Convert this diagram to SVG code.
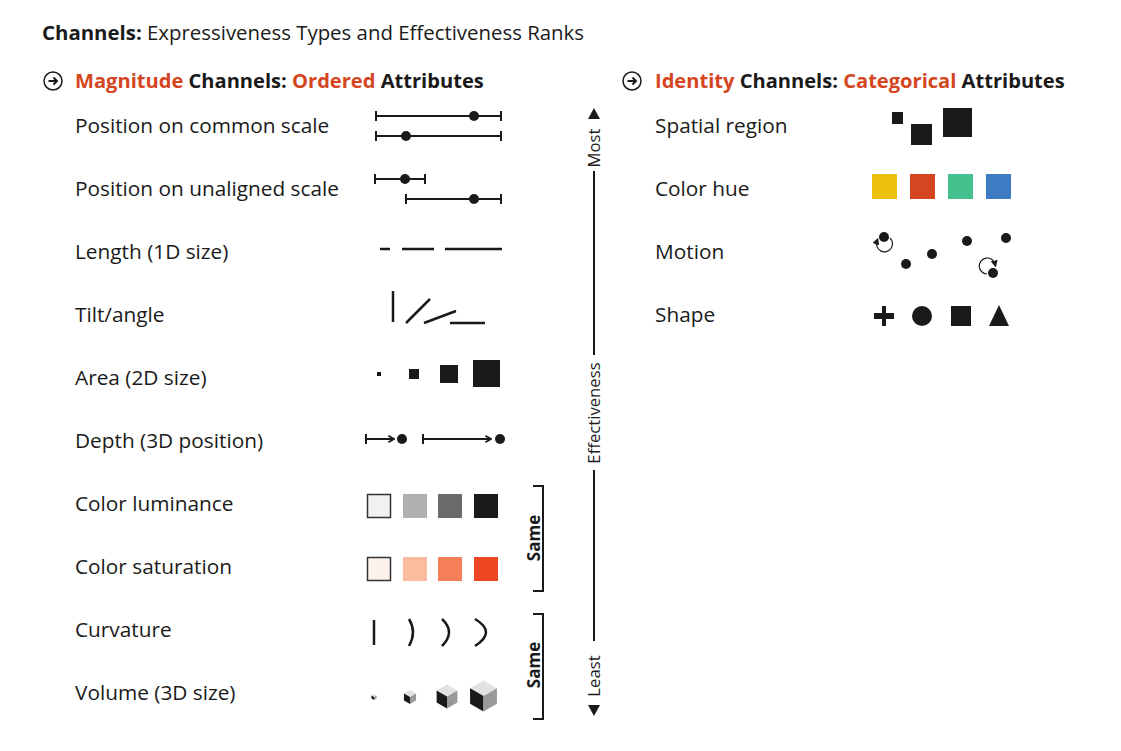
<svg xmlns="http://www.w3.org/2000/svg" width="1121" height="751" viewBox="0 0 1121 751">
<defs>
<style>
text{font-family:"Open Sans","Liberation Sans",sans-serif;fill:#1a1a1a}
.t{font-size:20.4px}
.h{font-size:20.1px;font-weight:bold}
.r{fill:#d5461f}
.lab{font-size:20.8px}
.ax{font-size:16.7px}
.same{font-size:17px;font-weight:bold}
.ln{stroke:#1a1a1a;stroke-width:2;fill:none}
.lnt{stroke:#1a1a1a;stroke-width:2.5;fill:none}
.f{fill:#1a1a1a}
</style>
<marker id="ah" viewBox="0 0 10 10" refX="9" refY="5" markerWidth="8" markerHeight="9" orient="auto" markerUnits="userSpaceOnUse"><path d="M2,1 L9,5 L2,9" fill="none" stroke="#1a1a1a" stroke-width="2.2"/></marker>
<marker id="am" viewBox="0 0 10 10" refX="5" refY="5" markerWidth="7" markerHeight="7" orient="auto" markerUnits="userSpaceOnUse"><path d="M0,0 L10,5 L0,10 z" fill="#1a1a1a"/></marker>
<symbol id="icon" viewBox="-10 -10 20 20" overflow="visible"><circle r="9" fill="none" stroke="#1a1a1a" stroke-width="1.5"/><path d="M-4.5,0 H4 M0.5,-3.5 L4,0 L0.5,3.5" fill="none" stroke="#1a1a1a" stroke-width="2"/></symbol>
<g id="cube">
<path d="M0,-1 L0.866,-0.5 L0,0 L-0.866,-0.5 z" fill="#e2e2e2"/>
<path d="M-0.866,-0.5 L0,0 L0,1 L-0.866,0.5 z" fill="#1a1a1a"/>
<path d="M0,0 L0.866,-0.5 L0.866,0.5 L0,1 z" fill="#999"/>
</g>
</defs>
<rect width="1121" height="751" fill="#fff"/>

<g id="title"><text class="t" x="42" y="40"><tspan font-weight="bold">Channels:</tspan> Expressiveness Types and Effectiveness Ranks</text></g>

<g id="magnitude-header">
<use href="#icon" x="43" y="71" width="20" height="20"/>
<text class="h" x="75" y="88"><tspan class="r">Magnitude</tspan> Channels: <tspan class="r">Ordered</tspan> Attributes</text>
</g>

<g id="identity-header">
<use href="#icon" x="622" y="71" width="20" height="20"/>
<text class="h" x="655" y="88"><tspan class="r">Identity</tspan> Channels: <tspan class="r">Categorical</tspan> Attributes</text>
</g>

<g id="row-position-common">
<text class="lab" x="75" y="133">Position on common scale</text>
<path class="ln" d="M376,116 H501 M376,111 V121 M501,111 V121 M376,136 H501 M376,131 V141 M501,131 V141"/>
<circle class="f" cx="474" cy="116" r="5"/><circle class="f" cx="406" cy="136" r="5"/>
</g>

<g id="row-position-unaligned">
<text class="lab" x="75" y="196">Position on unaligned scale</text>
<path class="ln" d="M375,179 H425 M375,174 V184 M425,174 V184 M406,199 H501 M406,194 V204 M501,194 V204"/>
<circle class="f" cx="405" cy="179" r="5"/><circle class="f" cx="474" cy="199" r="5"/>
</g>

<g id="row-length">
<text class="lab" x="75" y="259">Length (1D size)</text>
<path class="lnt" d="M380,249 H390 M402,249 H434 M445,249 H502"/>
</g>

<g id="row-tilt">
<text class="lab" x="75" y="322">Tilt/angle</text>
<path class="lnt" d="M393,291 V322 M406,323 L430,299 M424,323 L456,311 M450,323 H485"/>
</g>

<g id="row-area">
<text class="lab" x="75" y="385">Area (2D size)</text>
<rect class="f" x="377" y="372" width="4" height="4"/>
<rect class="f" x="409" y="369" width="10" height="10"/>
<rect class="f" x="440" y="365" width="18" height="18"/>
<rect class="f" x="473" y="360" width="27" height="27"/>
</g>

<g id="row-depth">
<text class="lab" x="75" y="448">Depth (3D position)</text>
<path class="ln" d="M366,434 V444 M423,434 V444"/>
<path class="ln" d="M366,439 H394" marker-end="url(#ah)"/>
<path class="ln" d="M423,439 H491" marker-end="url(#ah)"/>
<circle class="f" cx="402" cy="439" r="5"/><circle class="f" cx="500" cy="439" r="5"/>
</g>

<g id="row-luminance">
<text class="lab" x="75" y="511">Color luminance</text>
<rect x="367.5" y="494.5" width="23" height="23" fill="#f1f1f1" stroke="#333" stroke-width="1.5"/>
<rect x="403" y="494" width="24" height="24" fill="#b0b0b0"/>
<rect x="438" y="494" width="24" height="24" fill="#6a6a6a"/>
<rect x="474" y="494" width="24" height="24" fill="#1a1a1a"/>
</g>

<g id="row-saturation">
<text class="lab" x="75" y="574">Color saturation</text>
<rect x="367.5" y="557.5" width="23" height="23" fill="#fdf3ec" stroke="#333" stroke-width="1.5"/>
<rect x="403" y="557" width="24" height="24" fill="#fbbb9e"/>
<rect x="438" y="557" width="24" height="24" fill="#f47f58"/>
<rect x="474" y="557" width="24" height="24" fill="#ef4623"/>
</g>

<g id="row-curvature">
<text class="lab" x="75" y="637">Curvature</text>
<path class="lnt" d="M374,620 V645"/>
<path class="lnt" d="M409,619 Q417,632 409,646"/>
<path class="lnt" d="M442,619 Q456,632 442,646"/>
<path class="lnt" d="M475,619 Q497,632 475,646"/>
</g>

<g id="row-volume">
<text class="lab" x="75" y="700">Volume (3D size)</text>
<g transform="translate(374,697) scale(3)"><use href="#cube"/></g>
<g transform="translate(410,697) scale(7)"><use href="#cube"/></g>
<g transform="translate(447,696.5) scale(12)"><use href="#cube"/></g>
<g transform="translate(483.5,696) scale(15.5)"><use href="#cube"/></g>
</g>

<g id="brackets">
<path class="ln" d="M533,486 H543 V591 H533 M533,614 H543 V719 H533"/>
<text class="same" transform="translate(540,538) rotate(-90)" text-anchor="middle">Same</text>
<text class="same" transform="translate(540,665) rotate(-90)" text-anchor="middle">Same</text>
</g>

<g id="effectiveness-axis">
<path d="M588,119 L594,108 L600,119 z" class="f"/>
<path d="M588,705 L594,716 L600,705 z" class="f"/>
<path class="ln" d="M594,171 V355 M594,470 V641"/>
<text class="ax" transform="translate(600,148) rotate(-90)" text-anchor="middle">Most</text>
<text class="ax" transform="translate(600,413) rotate(-90)" text-anchor="middle">Effectiveness</text>
<text class="ax" transform="translate(600,676) rotate(-90)" text-anchor="middle">Least</text>
</g>

<g id="row-spatial">
<text class="lab" x="655" y="133">Spatial region</text>
<rect class="f" x="892" y="112" width="11" height="12"/>
<rect class="f" x="911" y="124" width="21" height="21"/>
<rect class="f" x="943" y="108" width="29" height="29"/>
</g>

<g id="row-hue">
<text class="lab" x="655" y="196">Color hue</text>
<rect x="872" y="174" width="25" height="25" fill="#ecc20f"/>
<rect x="910" y="174" width="25" height="25" fill="#d3461f"/>
<rect x="948" y="174" width="25" height="25" fill="#45c08f"/>
<rect x="986" y="174" width="25" height="25" fill="#3d7cc3"/>
</g>

<g id="row-motion">
<text class="lab" x="655" y="259">Motion</text>
<circle class="f" cx="884" cy="237" r="5"/>
<circle class="f" cx="906" cy="264" r="5"/>
<circle class="f" cx="932" cy="254" r="5"/>
<circle class="f" cx="967" cy="241" r="5"/>
<circle class="f" cx="1006" cy="238" r="5"/>
<circle class="f" cx="993" cy="273" r="5"/>
<path d="M890,238 A8,8 0 1 1 877,241" fill="none" stroke="#1a1a1a" stroke-width="1.2" marker-end="url(#am)"/>
<path d="M987,274 A8,8 0 1 1 995,264" fill="none" stroke="#1a1a1a" stroke-width="1.2" marker-end="url(#am)"/>
</g>

<g id="row-shape">
<text class="lab" x="655" y="322">Shape</text>
<path class="f" d="M874,313 H882 V306 H886 V313 H894 V319 H886 V326 H882 V319 H874 z"/>
<circle class="f" cx="922" cy="316" r="10"/>
<rect class="f" x="951" y="306" width="20" height="20"/>
<path class="f" d="M999,305 L1009,326 L989,326 z"/>
</g>
</svg>
